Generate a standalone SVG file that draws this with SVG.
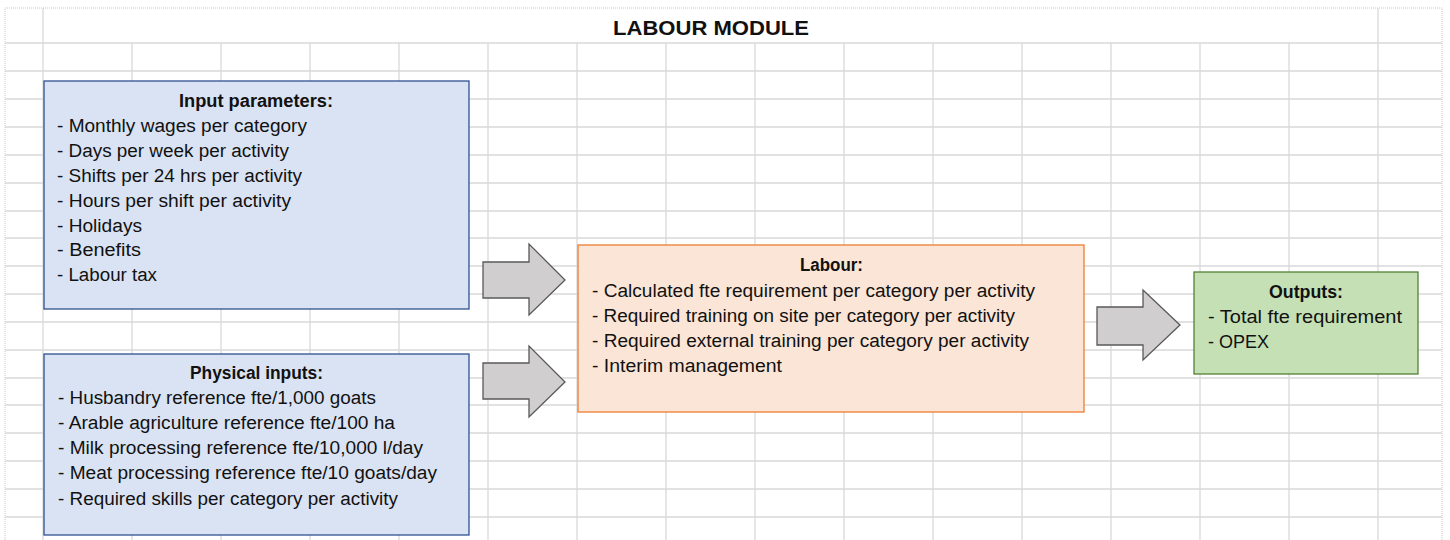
<svg xmlns="http://www.w3.org/2000/svg" width="1450" height="540" viewBox="0 0 1450 540">
  <style>
    .grid { stroke: #D9D9D9; stroke-width: 1.3; fill: none; }
    .border { stroke: #C8C8C8; stroke-width: 1; stroke-dasharray: 1 1; fill: none; }
    .t { font-family: "Liberation Sans", Arial, sans-serif; font-size: 18px; fill: #111111; }
    .b { font-weight: bold; }
    .title { font-family: "Liberation Sans", Arial, sans-serif; font-size: 21px; font-weight: bold; fill: #111111; }
    .blue { fill: #DAE3F3; stroke: #2F528F; stroke-width: 1.3; }
    .orange { fill: #FBE5D6; stroke: #ED7D31; stroke-width: 1.3; }
    .green { fill: #C5E0B4; stroke: #548235; stroke-width: 1.3; }
    .arrow { fill: #D0CECE; stroke: #595959; stroke-width: 1.3; stroke-linejoin: miter; }
  </style>
  <rect x="0" y="0" width="1450" height="540" fill="#FFFFFF"/>
  <g id="grid">
    <path class="border" d="M5,540 V8 H1442 V540"/>
    <path class="grid" d="M43,8 V540 M1378,8 V540 M132,43 V540 M221,43 V540 M310,43 V540 M399,43 V540 M488,43 V540 M577,43 V540 M666,43 V540 M755,43 V540 M844,43 V540 M933,43 V540 M1022,43 V540 M1111,43 V540 M1200,43 V540 M1289,43 V540"/>
    <path class="grid" d="M5,43 H1442 M5,71 H1442 M5,99 H1442 M5,127 H1442 M5,155 H1442 M5,183 H1442 M5,211 H1442 M5,238 H1442 M5,266 H1442 M5,294 H1442 M5,322 H1442 M5,350 H1442 M5,378 H1442 M5,405 H1442 M5,433 H1442 M5,461 H1442 M5,489 H1442 M5,517 H1442"/>
  </g>
  <g id="title">
    <text class="title" x="613" y="35" textLength="196" lengthAdjust="spacingAndGlyphs">LABOUR MODULE</text>
  </g>
  <g id="connectors">
    <polygon class="arrow" points="483,262 529,262 529,244 565,280 529,315 529,298 483,298"/>
    <polygon class="arrow" points="483,363 529,363 529,346 565,382 529,417 529,399 483,399"/>
    <polygon class="arrow" points="1097,307 1143,307 1143,290 1180,325 1143,360 1143,345 1097,345"/>
  </g>
  <g id="input-parameters">
    <rect class="blue" x="44" y="81" width="425" height="228"/>
    <text class="t b" x="179" y="107" textLength="154" lengthAdjust="spacingAndGlyphs">Input parameters:</text>
    <text class="t" x="57" y="132" textLength="250" lengthAdjust="spacingAndGlyphs">- Monthly wages per category</text>
    <text class="t" x="57" y="157" textLength="232" lengthAdjust="spacingAndGlyphs">- Days per week per activity</text>
    <text class="t" x="57" y="182" textLength="245" lengthAdjust="spacingAndGlyphs">- Shifts per 24 hrs per activity</text>
    <text class="t" x="57" y="207" textLength="234" lengthAdjust="spacingAndGlyphs">- Hours per shift per activity</text>
    <text class="t" x="57" y="232" textLength="85" lengthAdjust="spacingAndGlyphs">- Holidays</text>
    <text class="t" x="57" y="256" textLength="84" lengthAdjust="spacingAndGlyphs">- Benefits</text>
    <text class="t" x="57" y="281" textLength="100" lengthAdjust="spacingAndGlyphs">- Labour tax</text>
  </g>
  <g id="physical-inputs">
    <rect class="blue" x="44" y="354" width="425" height="181"/>
    <text class="t b" x="190" y="379" textLength="133" lengthAdjust="spacingAndGlyphs">Physical inputs:</text>
    <text class="t" x="58" y="404" textLength="318" lengthAdjust="spacingAndGlyphs">- Husbandry reference fte/1,000 goats</text>
    <text class="t" x="58" y="429" textLength="337" lengthAdjust="spacingAndGlyphs">- Arable agriculture reference fte/100 ha</text>
    <text class="t" x="58" y="454" textLength="365" lengthAdjust="spacingAndGlyphs">- Milk processing reference fte/10,000 l/day</text>
    <text class="t" x="58" y="479" textLength="379" lengthAdjust="spacingAndGlyphs">- Meat processing reference fte/10 goats/day</text>
    <text class="t" x="58" y="505" textLength="340" lengthAdjust="spacingAndGlyphs">- Required skills per category per activity</text>
  </g>
  <g id="labour">
    <rect class="orange" x="578" y="245" width="506" height="167"/>
    <text class="t b" x="800" y="271" textLength="63" lengthAdjust="spacingAndGlyphs">Labour:</text>
    <text class="t" x="592" y="297" textLength="443" lengthAdjust="spacingAndGlyphs">- Calculated fte requirement per category per activity</text>
    <text class="t" x="592" y="322" textLength="423" lengthAdjust="spacingAndGlyphs">- Required training on site per category per activity</text>
    <text class="t" x="592" y="347" textLength="437" lengthAdjust="spacingAndGlyphs">- Required external training per category per activity</text>
    <text class="t" x="592" y="372" textLength="190" lengthAdjust="spacingAndGlyphs">- Interim management</text>
  </g>
  <g id="outputs">
    <rect class="green" x="1194" y="272" width="224" height="102"/>
    <text class="t b" x="1269" y="298" textLength="74" lengthAdjust="spacingAndGlyphs">Outputs:</text>
    <text class="t" x="1208" y="323" textLength="194" lengthAdjust="spacingAndGlyphs">- Total fte requirement</text>
    <text class="t" x="1208" y="348">- OPEX</text>
  </g>
</svg>
